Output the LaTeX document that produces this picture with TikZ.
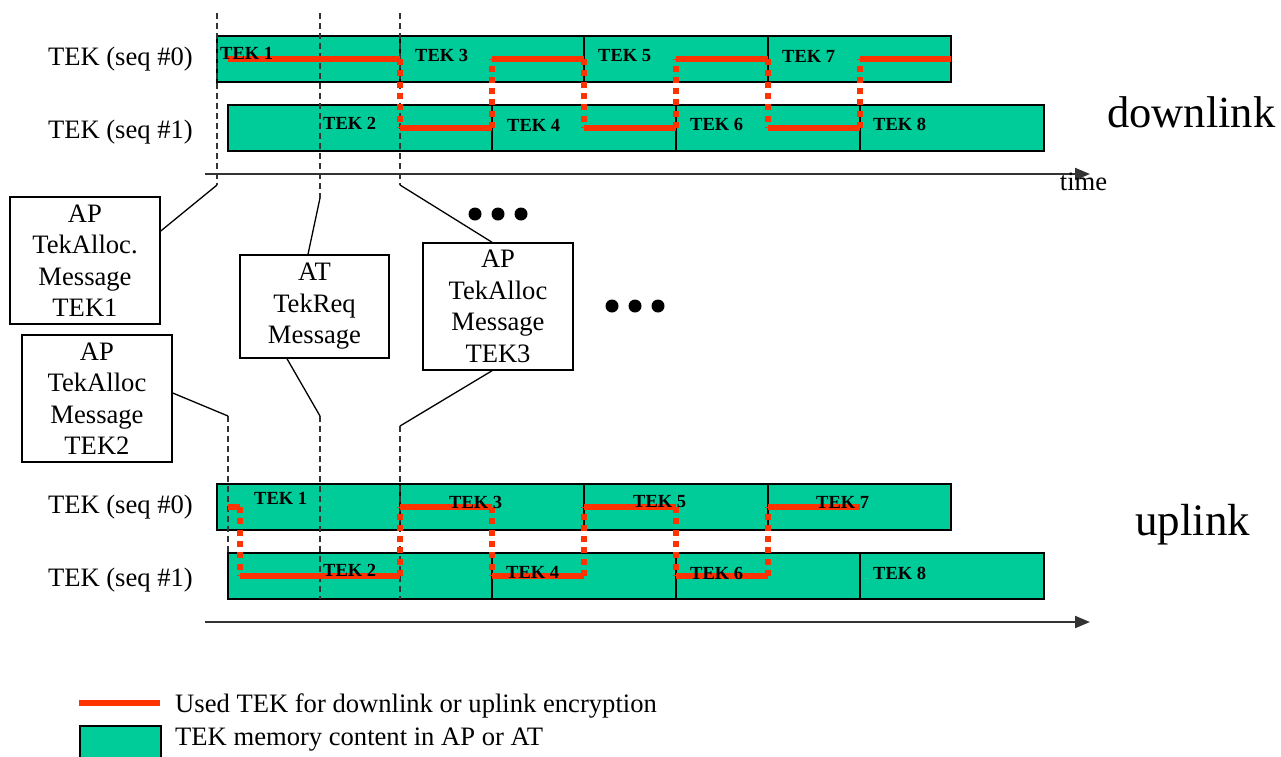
\documentclass[tikz,border=0pt]{standalone}
\usepackage{fontspec}
\setmainfont{Liberation Serif}
\usetikzlibrary{arrows.meta,positioning,calc}
\definecolor{tekgreen}{HTML}{00CC99}
\definecolor{tekred}{HTML}{FF3300}

\begin{document}
\begin{tikzpicture}[
    x=1pt, y=-1pt,
    font=\fontsize{26.6}{31.5}\selectfont,
    cell/.style={rectangle, draw=black, fill=tekgreen, line width=2.6pt, inner sep=0pt, outer sep=0pt, minimum height=46pt, minimum width=184pt},
    teklab/.style={anchor=west, inner sep=0pt, font=\fontsize{18.5}{20}\selectfont\bfseries},
    rowlab/.style={anchor=base east, inner sep=0pt},
    msg/.style={rectangle, draw=black, line width=1.5pt, align=center, inner sep=0pt, minimum width=150pt, minimum height=127pt},
    used/.style={draw=tekred, line width=6pt},
    usedv/.style={draw=tekred, line width=6pt, dash pattern=on 6pt off 5.3pt},
    marker/.style={draw=black!80, line width=1.2pt, dash pattern=on 6pt off 4pt},
    callout/.style={draw=black, line width=1.3pt},
    axis/.style={draw=black!80, line width=2pt, -{Triangle[length=15pt, width=12pt]}}
  ]
    \useasboundingbox (0,0) rectangle (1281,756);

    % downlink memory rows
    \node[cell, minimum width=183pt] (d1) at (308.5,59) {};
    \node[cell, right=0pt of d1] (d3) {};
    \node[cell, right=0pt of d3] (d5) {};
    \node[cell, minimum width=183pt, right=0pt of d5] (d7) {};
    \node[cell, minimum width=264pt] (d2) at (360,128) {};
    \node[cell, right=0pt of d2] (d4) {};
    \node[cell, right=0pt of d4] (d6) {};
    \node[cell, right=0pt of d6] (d8) {};

    % uplink memory rows
    \node[cell, minimum width=183pt] (u1) at (308.5,507) {};
    \node[cell, right=0pt of u1] (u3) {};
    \node[cell, right=0pt of u3] (u5) {};
    \node[cell, minimum width=183pt, right=0pt of u5] (u7) {};
    \node[cell, minimum width=264pt] (u2) at (360,576) {};
    \node[cell, right=0pt of u2] (u4) {};
    \node[cell, right=0pt of u4] (u6) {};
    \node[cell, right=0pt of u6] (u8) {};

    % message time marks
    \coordinate (t1) at (217,13);
    \coordinate (t2) at (320,13);
    \coordinate (t3) at (400,13);
    \coordinate (k1) at (217,185);
    \coordinate (k2) at (320,198);
    \coordinate (k3) at (400,185);
    \coordinate (k4) at (228,416);
    \coordinate (k5) at (320,416);
    \coordinate (k6) at (400,426);
    \draw[marker] (t1) -- (k1);
    \draw[marker] (t2) -- (k2);
    \draw[marker] (t3) -- (k3);
    \draw[marker] (k4) -- (u2.north west);
    \draw[marker] (k5) -- (k5 |- u2.south);
    \draw[marker] (k6) -- (k6 |- u2.south);

    % used TEK, downlink
    \draw[used] (d2.west |- d1.center) -- (d1.east);
    \draw[usedv] (d1.east) -- (d1.east |- d2.center);
    \draw[used] (d1.east |- d2.center) -- (d2.east);
    \draw[usedv] (d2.east) -- (d2.east |- d3.center);
    \draw[used] (d2.east |- d3.center) -- (d3.east);
    \draw[usedv] (d3.east) -- (d3.east |- d4.center);
    \draw[used] (d3.east |- d4.center) -- (d4.east);
    \draw[usedv] (d4.east) -- (d4.east |- d5.center);
    \draw[used] (d4.east |- d5.center) -- (d5.east);
    \draw[usedv] (d5.east) -- (d5.east |- d6.center);
    \draw[used] (d5.east |- d6.center) -- (d6.east);
    \draw[usedv] (d6.east) -- (d6.east |- d7.center);
    \draw[used] (d6.east |- d7.center) -- (d7.east);

    % used TEK, uplink
    \coordinate (ust) at (240,507);
    \draw[used] (u2.west |- u1.center) -- (ust);
    \draw[usedv] (ust) -- (ust |- u2.center);
    \draw[used] (ust |- u2.center) -- (u1.east |- u2.center);
    \draw[usedv] (u1.east |- u2.center) -- (u1.east);
    \draw[used] (u1.east) -- (u2.east |- u1.center);
    \draw[usedv] (u2.east |- u1.center) -- (u2.east);
    \draw[used] (u2.east) -- (u3.east |- u2.center);
    \draw[usedv] (u3.east |- u2.center) -- (u3.east);
    \draw[used] (u3.east) -- (u4.east |- u3.center);
    \draw[usedv] (u4.east |- u3.center) -- (u4.east);
    \draw[used] (u4.east) -- (u5.east |- u4.center);
    \draw[usedv] (u5.east |- u4.center) -- (u5.east);
    \draw[used] (u5.east) -- (u6.east |- u5.center);

    % TEK labels
    \node[teklab] (ld1) at (220,53) {TEK 1};
    \node[teklab] (ld3) at (415,55) {TEK 3};
    \node[teklab] (ld5) at (598,56) {TEK 5};
    \node[teklab] (ld7) at (782,56) {TEK 7};
    \node[teklab] (ld2) at (323,123) {TEK 2};
    \node[teklab] (ld4) at (507,125) {TEK 4};
    \node[teklab] (ld6) at (690,124) {TEK 6};
    \node[teklab] (ld8) at (873,124) {TEK 8};
    \node[teklab] (lu1) at (254,498) {TEK 1};
    \node[teklab] (lu3) at (449,502) {TEK 3};
    \node[teklab] (lu5) at (633,502) {TEK 5};
    \node[teklab] (lu7) at (816,502) {TEK 7};
    \node[teklab] (lu2) at (323,570) {TEK 2};
    \node[teklab] (lu4) at (506,572) {TEK 4};
    \node[teklab] (lu6) at (690,573) {TEK 6};
    \node[teklab] (lu8) at (873,573) {TEK 8};

    \node[rowlab] (rd0) at (193,65) {TEK (seq \#0)};
    \node[rowlab] (rd1) at (193,138) {TEK (seq \#1)};
    \node[rowlab] (ru0) at (193,513) {TEK (seq \#0)};
    \node[rowlab] (ru1) at (193,586) {TEK (seq \#1)};
    \node[anchor=base west, inner sep=0pt, font=\fontsize{44.5}{50}\selectfont] (dltxt) at (1107,127) {downlink};
    \node[anchor=base west, inner sep=0pt, font=\fontsize{45}{50}\selectfont] (ultxt) at (1135,535) {uplink};

    % time axes
    \coordinate (ad0) at (205,174);
    \coordinate (ad1) at (1090,174);
    \coordinate (au0) at (205,622);
    \coordinate (au1) at (1090,622);
    \draw[axis] (ad0) -- (ad1);
    \draw[axis] (au0) -- (au1);
    \node[anchor=base, inner sep=0pt] (timelab) at (1083.5,190) {time};

    % messages
    \node[msg] (m1) at (85,260.5) {AP\\TekAlloc.\\Message\\TEK1};
    \node[msg] (m2) at (97,398.5) {AP\\TekAlloc\\Message\\TEK2};
    \node[msg, minimum width=149pt, minimum height=103pt] (m3) at (314.5,306.5) {AT\\TekReq\\Message};
    \node[msg] (m4) at (498,306.5) {AP\\TekAlloc\\Message\\TEK3};
    \draw[callout] (k1) -- (m1.east |- 0,231);
    \draw[callout] (k2) -- (308,0 |- m3.north);
    \draw[callout] (k3) -- (492,0 |- m4.north);
    \draw[callout] (m2.east |- 0,393) -- (k4);
    \draw[callout] (287,0 |- m3.south) -- (k5);
    \draw[callout] (492,0 |- m4.south) -- (k6);

    % continuation dots
    \fill (475,214) circle[radius=6.5pt] (498,214) circle[radius=6.5pt] (521,214) circle[radius=6.5pt];
    \fill (612,306) circle[radius=6.5pt] (635,306) circle[radius=6.5pt] (658,306) circle[radius=6.5pt];

    % legend
    \coordinate (lg0) at (79,703);
    \coordinate (lg1) at (160,703);
    \draw[used] (lg0) -- (lg1);
    \node[rectangle, draw=black, line width=1.5pt, fill=tekgreen, minimum width=81pt, minimum height=37pt, anchor=north west] (leggreen) at (79,725) {};
    \node[anchor=base west, inner sep=0pt] (legused) at (175,712) {Used TEK for downlink or uplink encryption};
    \node[anchor=base west, inner sep=0pt] (legmem) at (175,745) {TEK memory content in AP or AT};
  \end{tikzpicture}
\end{document}
